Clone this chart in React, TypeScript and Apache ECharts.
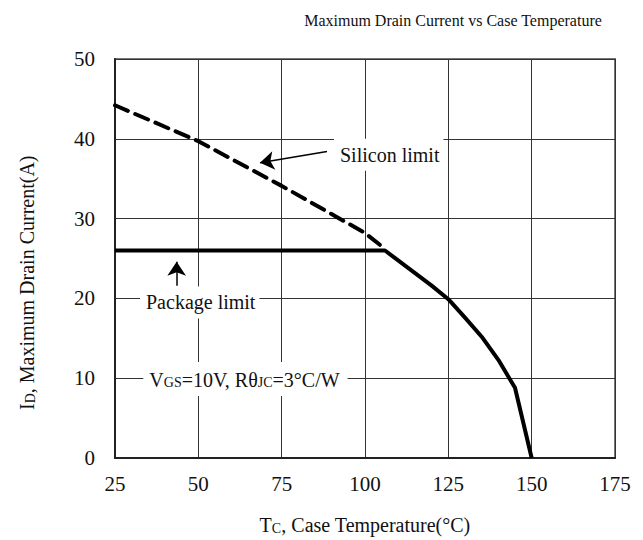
import React, { useEffect, useRef } from "react";
import * as echarts from "echarts";

const FONT = "'Liberation Serif', 'Times New Roman', serif";

// Silicon limit (dashed)
const siliconTemp = [25, 50, 75, 100, 106];
const siliconCurrent = [44.2, 39.7, 34.1, 28.2, 26.2];

// Package limit + derating (solid)
const solidTemp = [25, 106, 120, 125, 130, 135, 140, 145, 150];
const solidCurrent = [26, 26, 21.6, 19.9, 17.6, 15.2, 12.3, 8.8, 0];

const xTicks = [25, 50, 75, 100, 125, 150, 175];
const yTicks = [0, 10, 20, 30, 40, 50];

// Annotation anchors in data coordinates
const siliconLabelPos = [90.7, 38.0];
const siliconArrow = [[88.6, 38.4], [68.5, 37.0]];
const packageLabelPos = [32.5, 19.5];
const packageArrow = [[43.5, 21.6], [43.5, 24.6]];
const condLabelPos = [33.5, 9.9];

export default function App() {
  const ref = useRef<HTMLDivElement>(null);
  useEffect(() => {
    if (!ref.current) return;
    const chart = echarts.init(ref.current, undefined, { renderer: "svg" });
    const base = { fontFamily: FONT, color: "#111" };
    chart.setOption({
      animation: false,
      backgroundColor: "#fff",
      grid: {
        left: 115,
        right: 28,
        top: 59,
        bottom: 81,
        show: true,
        borderColor: "#777",
        borderWidth: 2,
      },
      xAxis: {
        type: "value",
        min: xTicks[0],
        max: xTicks[xTicks.length - 1],
        interval: 25,
        axisLine: { show: true, lineStyle: { color: "#222", width: 2 } },
        axisTick: { show: false },
        splitLine: { show: true, lineStyle: { color: "#333", width: 1 } },
        axisLabel: { ...base, fontSize: 21, margin: 15 },
        name: "{a|T}{b|C}{a|, Case Temperature(°C)}",
        nameLocation: "middle",
        nameGap: 55,
        nameTextStyle: {
          rich: {
            a: { ...base, fontSize: 20, lineHeight: 22, verticalAlign: "bottom" },
            b: { ...base, fontSize: 14, lineHeight: 22, verticalAlign: "bottom", padding: [0, 0, 0, 0] },
          },
        },
      },
      yAxis: {
        type: "value",
        min: yTicks[0],
        max: yTicks[yTicks.length - 1],
        interval: 10,
        axisLine: { show: true, lineStyle: { color: "#222", width: 2 } },
        axisTick: { show: false },
        splitLine: { show: true, lineStyle: { color: "#333", width: 1 } },
        axisLabel: { ...base, fontSize: 21, margin: 20 },
      },
      series: [
        {
          type: "line",
          data: siliconTemp.map((t, i) => [t, siliconCurrent[i]]),
          showSymbol: false,
          lineStyle: { color: "#000", width: 4, type: [14, 8], cap: "round" },
          z: 3,
        },
        {
          type: "line",
          data: solidTemp.map((t, i) => [t, solidCurrent[i]]),
          showSymbol: false,
          lineStyle: { color: "#000", width: 4, join: "round" },
          z: 4,
        },
        {
          type: "lines",
          coordinateSystem: "cartesian2d",
          symbol: ["none", "arrow"],
          symbolSize: [10, 14],
          lineStyle: { color: "#000", width: 1.5, opacity: 1 },
          data: [{ coords: siliconArrow }, { coords: packageArrow }],
          z: 5,
        },
      ],
    });

    const px = (p: number[]) => chart.convertToPixel({ gridIndex: 0 }, p) as number[];
    const sp = px(siliconLabelPos);
    const pp = px(packageLabelPos);
    const cp = px(condLabelPos);
    const txt = (x: number, y: number, text: string, rich?: any, extra?: any) => ({
      type: "text",
      x,
      y,
      z: 100,
      style: {
        text,
        fontFamily: FONT,
        fontSize: 20,
        fill: "#111",
        verticalAlign: "middle",
        align: "left",
        rich,
        ...extra,
      },
    });
    const richSmall = {
      a: { fontFamily: FONT, fontSize: 20, fill: "#111", lineHeight: 22, verticalAlign: "bottom" },
      b: { fontFamily: FONT, fontSize: 14, fill: "#111", lineHeight: 22, verticalAlign: "bottom" },
    };
    chart.setOption({
      graphic: [
        txt(453, 20, "Maximum Drain Current vs Case Temperature", undefined, {
          align: "center",
          fontSize: 16,
        }),
        {
          type: "text",
          x: 26,
          y: 410,
          rotation: Math.PI / 2,
          z: 100,
          style: {
            text: "{a|I}{b|D}{a|, Maximum Drain Current(A)}",
            rich: richSmall,
            align: "left",
            verticalAlign: "middle",
          },
        },
        txt(sp[0], sp[1], "Silicon limit", undefined, {
          backgroundColor: "#fff",
          padding: [6, 4, 6, 6],
        }),
        txt(pp[0], pp[1], "Package limit", undefined, {
          backgroundColor: "#fff",
          padding: [6, 4, 6, 6],
        }),
        txt(cp[0], cp[1], "{a|V}{b|GS}{a|=10V, R}{a|θ}{b|JC}{a|=3°C/W}", richSmall, {
          backgroundColor: "#fff",
          padding: [6, 8, 6, 6],
        }),
      ],
    });
    return () => chart.dispose();
  }, []);
  return (
    <div
      ref={ref}
      style={{ position: "fixed", left: 0, top: 0, width: 643, height: 540 }}
    />
  );
}
